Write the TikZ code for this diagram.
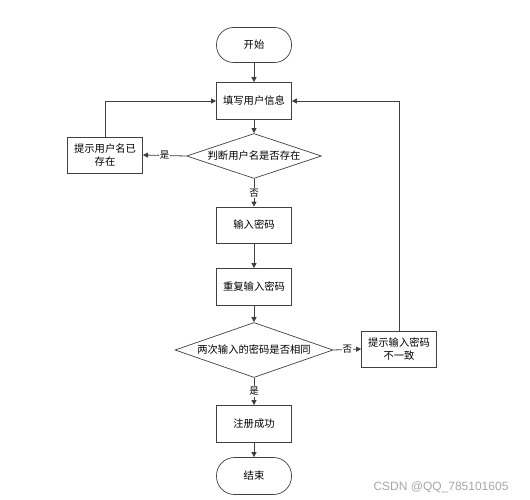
\documentclass[tikz,border=0pt]{standalone}
\usepackage{fontspec}
\setmainfont{Noto Sans CJK SC}
\newfontfamily\wmfont{Liberation Sans}
\usetikzlibrary{shapes.geometric,arrows.meta}
\definecolor{linec}{HTML}{404040}
\begin{document}
\begin{tikzpicture}[x=1pt,y=-1pt,
  every node/.style={font=\fontsize{10.3}{13}\selectfont, text=black},
  proc/.style={draw=linec, line width=0.7pt, minimum width=75pt, minimum height=36pt, inner sep=2pt, align=center},
  term/.style={draw=linec, line width=0.7pt, minimum width=75pt, minimum height=35pt, rounded corners=17pt},
  dec/.style={draw=linec, line width=0.7pt, diamond, aspect=3, inner sep=0pt},
  conn/.style={draw=linec, line width=0.8pt, -{Triangle[length=5pt,width=5pt]}},
  lbl/.style={fill=white, inner sep=1pt, font=\fontsize{9.5}{11}\selectfont}
]
\useasboundingbox (0,0) rectangle (530,500);
\node[term] (start) at (254,45) {开始};
\node[proc, minimum height=37pt] (fill) at (254,101) {填写用户信息};
\node[dec, minimum width=135pt, minimum height=45pt] (d1) at (254,156) {判断用户名是否存在};
\node[proc, text width=70pt] (tip1) at (105,155) {提示用户名已\\存在};
\node[proc] (pwd) at (254,225) {输入密码};
\node[proc, minimum height=37pt] (rep) at (254,287) {重复输入密码};
\node[dec, aspect=2.9, minimum width=158pt, minimum height=55pt] (d2) at (254,350) {两次输入的密码是否相同};
\node[proc, text width=70pt] (tip2) at (399,349) {提示输入密码\\不一致};
\node[proc, minimum height=37pt] (ok) at (254,424) {注册成功};
\node[term, minimum height=37pt, rounded corners=18pt] (end) at (254,476) {结束};
\node[font=\wmfont\fontsize{12}{14}\selectfont, text=black!35, anchor=west] (wm) at (370,487) {CSDN @QQ\_785101605};

\draw[conn] (start) -- (fill);
\draw[conn] (fill) -- (d1);
\draw[conn] (d1.west) -- node[lbl]{是} (tip1.east);
\draw[conn] (tip1.north) |- (fill.west);
\draw[conn] (d1.south) -- node[lbl]{否} (pwd.north);
\draw[conn] (pwd) -- (rep);
\draw[conn] (rep) -- (d2);
\draw[conn] (d2.east) -- node[lbl]{否} (tip2.west);
\draw[conn] (tip2.north) |- (fill.east);
\draw[conn] (d2.south) -- node[lbl]{是} (ok.north);
\draw[conn] (ok) -- (end);
\end{tikzpicture}
\end{document}
